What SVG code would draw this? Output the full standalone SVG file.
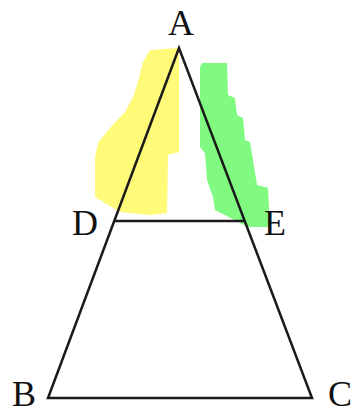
<svg xmlns="http://www.w3.org/2000/svg" width="358" height="414" viewBox="0 0 358 414">
<style>
.lbl{font-family:"Liberation Serif","Times New Roman",serif;font-size:36px;fill:#111;text-anchor:middle}
.ln{stroke:#1a1a1a;stroke-width:2.5;fill:none;stroke-linejoin:miter}
</style>
<rect width="358" height="414" fill="#fff"/>
<g id="highlights">
<polygon id="yellow" fill="#fffa78" points="150,50 179,48 179,152 168,155 167,213 150,215 120,212 95,197 95,157 98,143 110,128 125,112 133,97 138,82 143,62"/>
<polygon id="green" fill="#80fa80" points="202,63 227,63 228,95 235,98 237,115 243,118 245,140 250,142 253,160 257,185 268,188 270,227 248,227 215,210 213,197 207,180 205,153 200,147 200,67"/>
</g>
<g id="connectors">
<polygon class="ln" points="179,48 48,398 312,398"/>
<line class="ln" x1="115" y1="221" x2="245" y2="221"/>
</g>
<g id="A"><text class="lbl" x="181" y="35">A</text></g>
<g id="D"><text class="lbl" x="85" y="235">D</text></g>
<g id="E"><text class="lbl" x="275" y="235">E</text></g>
<g id="B"><text class="lbl" x="24" y="406">B</text></g>
<g id="C"><text class="lbl" x="340" y="406">C</text></g>
</svg>
